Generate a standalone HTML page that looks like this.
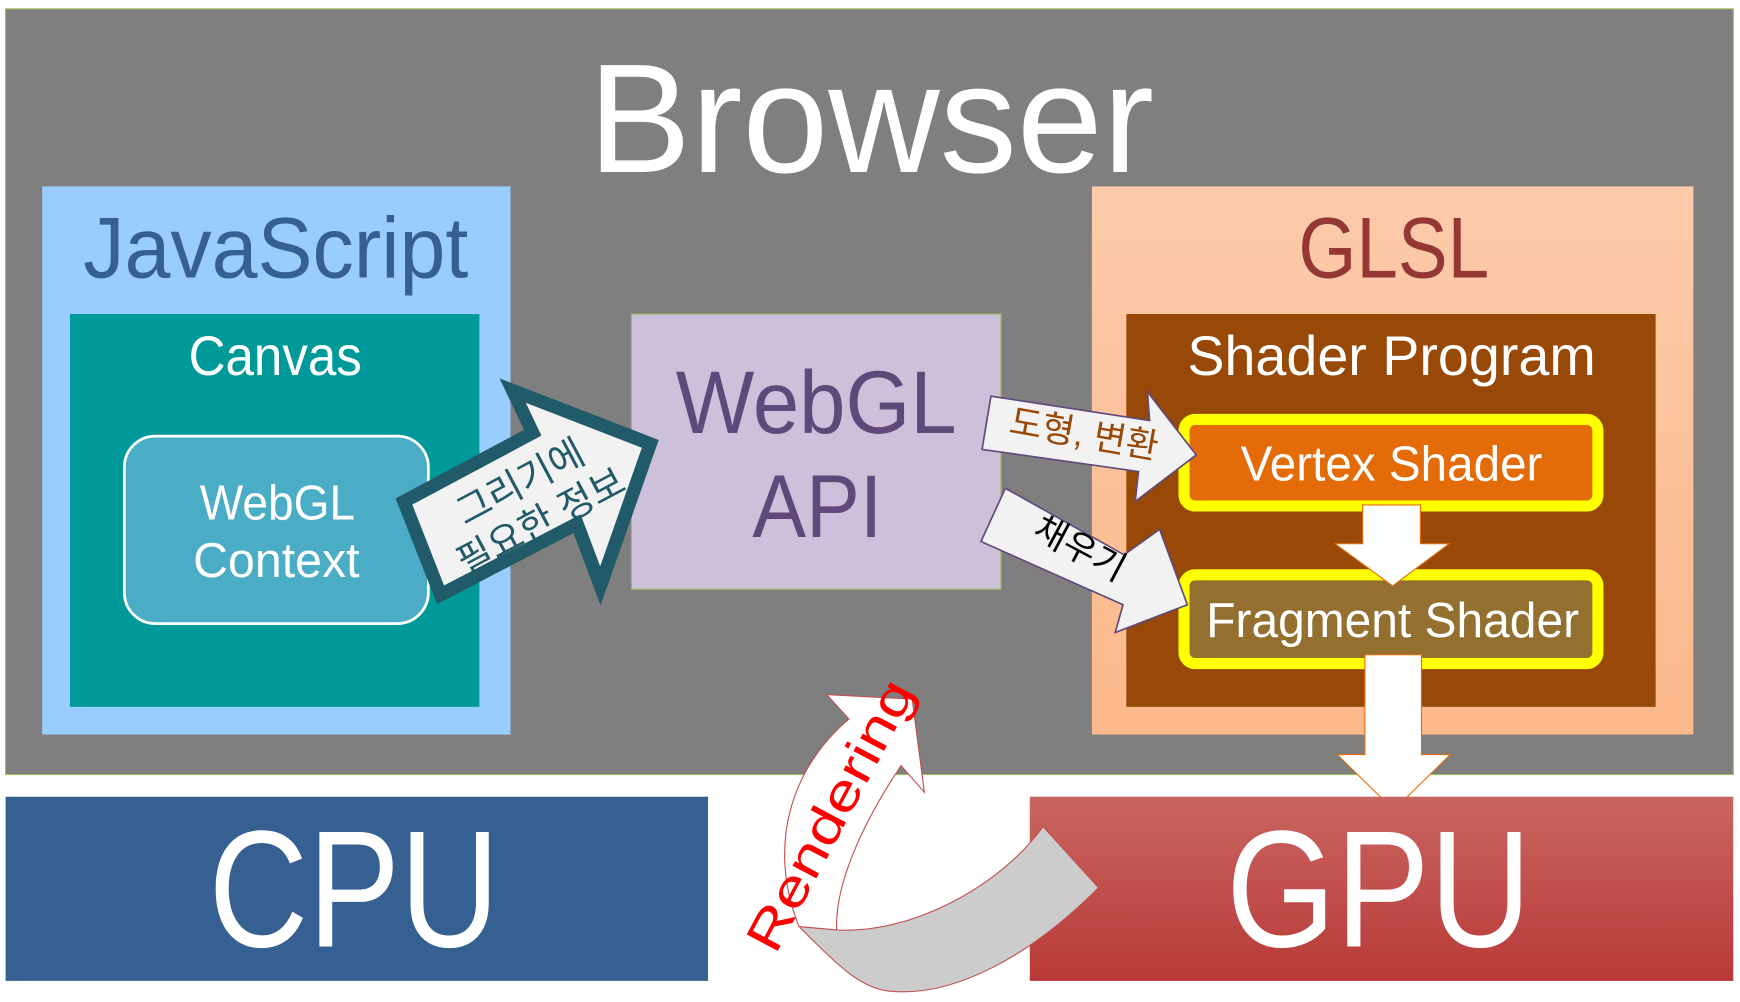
<!DOCTYPE html>
<html><head><meta charset="utf-8"><style>html,body{margin:0;padding:0;background:#fff}svg{display:block}text{font-family:"Liberation Sans","Noto Sans CJK KR",sans-serif}</style></head>
<body>
<svg width="1740" height="1002" viewBox="0 0 1568 903" xmlns="http://www.w3.org/2000/svg">
<defs>
<linearGradient id="gl" x1="0" y1="0" x2="0" y2="1"><stop offset="0" stop-color="#fccbab"/><stop offset="1" stop-color="#fbb88a"/></linearGradient>
<linearGradient id="gp" x1="0" y1="0" x2="0" y2="1"><stop offset="0" stop-color="#c96560"/><stop offset="1" stop-color="#b83a38"/></linearGradient>
</defs>
<rect x="0" y="0" width="1568" height="903" fill="#fff"/>
<rect x="5" y="8" width="1557" height="690" fill="#7f7f7f" stroke="#9bbb59" stroke-width="1"/>
<text x="530" y="155" font-size="140" fill="#fff" textLength="510" lengthAdjust="spacingAndGlyphs">Browser</text>

<rect x="38" y="168" width="422" height="494" fill="#99ccff"/>
<text x="75" y="250" font-size="78" fill="#366092" textLength="347" lengthAdjust="spacingAndGlyphs">JavaScript</text>
<rect x="63" y="283" width="369" height="354" fill="#009999"/>
<text x="170" y="338" font-size="50" fill="#fff" textLength="156" lengthAdjust="spacingAndGlyphs">Canvas</text>
<rect x="112" y="393" width="274" height="169" rx="28" fill="#4bacc6" stroke="#fff" stroke-width="2.5"/>
<text x="180" y="468" font-size="44" fill="#fff" textLength="140" lengthAdjust="spacingAndGlyphs">WebGL</text>
<text x="174" y="520" font-size="44" fill="#fff" textLength="150" lengthAdjust="spacingAndGlyphs">Context</text>

<rect x="569" y="283" width="333" height="248" fill="#ccc0da" stroke="#9bbb59" stroke-width="1"/>
<text x="609" y="390" font-size="80" fill="#5f497a" textLength="253" lengthAdjust="spacingAndGlyphs">WebGL</text>
<text x="678" y="484" font-size="80" fill="#5f497a" textLength="117" lengthAdjust="spacingAndGlyphs">API</text>

<rect x="984" y="168" width="542" height="494" fill="url(#gl)"/>
<text x="1170" y="250" font-size="78" fill="#953735" textLength="172" lengthAdjust="spacingAndGlyphs">GLSL</text>
<rect x="1015" y="283" width="477" height="354" fill="#984807"/>
<text x="1070" y="338" font-size="50" fill="#fff" textLength="368" lengthAdjust="spacingAndGlyphs">Shader Program</text>
<rect x="1067" y="378" width="373" height="78" rx="10" fill="#e36c09" stroke="#ffff00" stroke-width="10"/>
<text x="1118" y="433" font-size="44" fill="#fff" textLength="272" lengthAdjust="spacingAndGlyphs">Vertex Shader</text>
<rect x="1067" y="518" width="373" height="80" rx="10" fill="#937030" stroke="#ffff00" stroke-width="10"/>
<text x="1087" y="574" font-size="44" fill="#fff" textLength="336" lengthAdjust="spacingAndGlyphs">Fragment Shader</text>

<polygon points="1228,455 1280,455 1280,490 1306,490 1255,528 1203,490 1228,490" fill="#fff" stroke="#e36c09" stroke-width="1"/>
<polygon points="1230,590 1281,590 1281,680 1307,680 1256,730 1205,680 1230,680" fill="#fff" stroke="#e36c09" stroke-width="1"/>

<rect x="5" y="718" width="633" height="166" fill="#366092"/>
<text x="188" y="853" font-size="150" fill="#fff" textLength="262" lengthAdjust="spacingAndGlyphs">CPU</text>
<rect x="928" y="718" width="634" height="166" fill="url(#gp)"/>
<text x="1105" y="853" font-size="150" fill="#fff" textLength="275" lengthAdjust="spacingAndGlyphs">GPU</text>

<polygon points="364,452 480,390 462,352 586,400 541,528 520,472 397,536" fill="#f2f2f2" stroke="#215a68" stroke-width="12" stroke-linejoin="miter"/>
<g transform="translate(478,452) rotate(-28)" font-size="34" fill="#215a68" text-anchor="middle">
<text x="0" y="-8">그리기에</text><text x="0" y="32">필요한 정보</text></g>

<polygon points="893,357 1036,379 1034,353 1078,410 1023,452 1026,425 885,405" fill="#f2f2f2" stroke="#604a7b" stroke-width="1.5"/>
<text transform="translate(975,402) rotate(10)" font-size="32" fill="#984807" text-anchor="middle">도형, 변환</text>
<polygon points="906,440 1013,500 1045,477 1070,545 1005,570 1012,545 884,488" fill="#f2f2f2" stroke="#604a7b" stroke-width="1.5"/>
<text transform="translate(968,504) rotate(28)" font-size="32" fill="#000" text-anchor="middle">채우기</text>

<path d="M754,838 C820,842 900,800 940,745 L990,800 C930,860 860,900 800,893 C775,890 755,870 720,835 Z" fill="#cccccc" stroke="#c0504d" stroke-width="1"/>
<path d="M720,835 C690,760 715,690 765,648 L745,626 L822,630 L833,714 L812,690 C775,745 752,800 754,838 Z" fill="#fff" stroke="#c0504d" stroke-width="1"/>
<text transform="translate(762,742) rotate(-62)" font-size="46" fill="#ff0000" text-anchor="middle" textLength="270" lengthAdjust="spacingAndGlyphs">Rendering</text>
</svg>
</body></html>
